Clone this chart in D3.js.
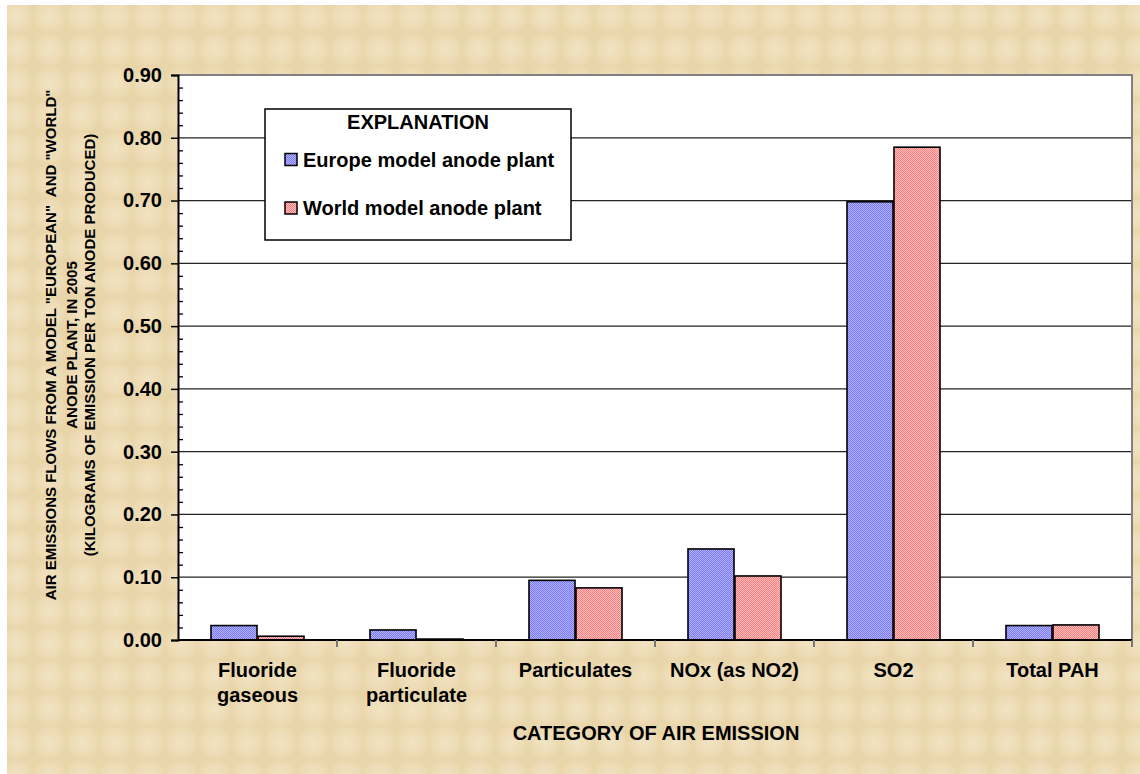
<!DOCTYPE html>
<html>
<head>
<meta charset="utf-8">
<script src="https://cdn.jsdelivr.net/npm/d3@7/dist/d3.min.js"></script>
<style>
  html, body { margin: 0; padding: 0; background: #ffffff; }
  svg { display: block; }
  text { font-family: "Liberation Sans", Arial, sans-serif; font-weight: bold; fill: #000; }
</style>
</head>
<body>
<svg id="chart" width="1140" height="774"></svg>
<script>
// ---- data ----
const categories = ["Fluoride gaseous", "Fluoride particulate", "Particulates", "NOx (as NO2)", "SO2", "Total PAH"];
const seriesNames = ["Europe model anode plant", "World model anode plant"];
const europeValues = [0.023, 0.016, 0.095, 0.145, 0.698, 0.023];
const worldValues  = [0.006, 0.0015, 0.083, 0.102, 0.785, 0.024];
const yTickValues = [0, 0.1, 0.2, 0.3, 0.4, 0.5, 0.6, 0.7, 0.8, 0.9];
const yTitleLines = ['AIR EMISSIONS FLOWS FROM A MODEL "EUROPEAN"  AND "WORLD"', 'ANODE PLANT, IN 2005', '(KILOGRAMS OF EMISSION PER TON ANODE PRODUCED)'];
const xTitle = "CATEGORY OF AIR EMISSION";
const legendTitle = "EXPLANATION";

const seriesValues = [europeValues, worldValues];

const svg = d3.select("#chart");
const W = 1140, H = 774;
const m = {left: 178, right: 1132, top: 75, bottom: 640};

// ---- defs: textures ----
const defs = svg.append("defs");
const bgPat = defs.append("pattern").attr("id", "parch")
  .attr("patternUnits", "userSpaceOnUse").attr("width", 33).attr("height", 33);
const rg = defs.append("radialGradient").attr("id", "bump");
rg.append("stop").attr("offset", "0%").attr("stop-color", "#F1E3C2");
rg.append("stop").attr("offset", "70%").attr("stop-color", "#EDDBB4");
rg.append("stop").attr("offset", "100%").attr("stop-color", "#E9D5AA");
bgPat.append("rect").attr("width", 33).attr("height", 33).attr("fill", "#E9D5AA");
bgPat.append("circle").attr("cx", 16.5).attr("cy", 16.5).attr("r", 18).attr("fill", "url(#bump)");

function checker(id, dark, light) {
  const p = defs.append("pattern").attr("id", id)
    .attr("patternUnits", "userSpaceOnUse").attr("width", 2).attr("height", 2);
  p.append("rect").attr("width", 2).attr("height", 2).attr("fill", light).attr("shape-rendering", "crispEdges");
  p.append("rect").attr("x", 0).attr("y", 0).attr("width", 1).attr("height", 1).attr("fill", dark).attr("shape-rendering", "crispEdges");
  p.append("rect").attr("x", 1).attr("y", 1).attr("width", 1).attr("height", 1).attr("fill", dark).attr("shape-rendering", "crispEdges");
}
checker("bluePat", "#7A7AF8", "#B2B2FF");
checker("redPat", "#FF7C7C", "#FFC0C0");
const fills = ["url(#bluePat)", "url(#redPat)"];

// ---- background ----
svg.append("rect").attr("x", 7).attr("y", 5).attr("width", W - 7).attr("height", H - 5)
  .attr("fill", "url(#parch)");

// ---- scales ----
const x0 = d3.scaleBand().domain(categories).range([m.left, m.right]).padding(0);
const x1 = d3.scaleBand().domain(seriesNames).range([0, x0.bandwidth()]).paddingInner(0).paddingOuter(0.728);
const y = d3.scaleLinear().domain([0, 0.9]).range([m.bottom, m.top]);

// plot area
svg.append("rect").attr("x", m.left).attr("y", m.top)
  .attr("width", m.right - m.left).attr("height", m.bottom - m.top).attr("fill", "#fff");

// gridlines
svg.append("g").selectAll("line").data(yTickValues.filter(d => d > 0 && d < 0.9)).join("line")
  .attr("x1", m.left).attr("x2", m.right)
  .attr("y1", d => y(d)).attr("y2", d => y(d))
  .attr("stroke", "#222").attr("stroke-width", 1.3);

// plot border (top & right gray)
svg.append("path")
  .attr("d", `M${m.left},${m.top}H${m.right}V${m.bottom}`)
  .attr("fill", "none").attr("stroke", "#808080").attr("stroke-width", 2);

// bars
const groups = svg.append("g").selectAll("g").data(categories).join("g")
  .attr("transform", d => `translate(${Math.round(x0(d))},0)`);
groups.selectAll("rect").data((d, i) => seriesNames.map((s, j) => ({s, j, v: seriesValues[j][i]}))).join("rect")
  .attr("x", d => Math.round(x1(d.s)))
  .attr("width", Math.round(x1.bandwidth()))
  .attr("y", d => y(d.v))
  .attr("height", d => y(0) - y(d.v))
  .attr("fill", d => fills[d.j])
  .attr("stroke", "#000").attr("stroke-width", 1.6);

// y axis
const yAxis = d3.axisLeft(y).tickValues(yTickValues).tickFormat(d3.format(".2f")).tickSize(7).tickPadding(9);
const ya = svg.append("g").attr("transform", `translate(${m.left},0)`).call(yAxis);
ya.select(".domain").attr("stroke", "#000").attr("stroke-width", 2);
ya.selectAll(".tick line").attr("stroke", "#000").attr("stroke-width", 1.5);
ya.selectAll(".tick text").style("font-size", "20px").style("font-family", "'Liberation Sans', Arial, sans-serif")
  .style("font-weight", "bold").attr("fill", "#000");
// minor ticks (inside)
const minor = d3.range(0, 0.9001, 0.02).filter(v => Math.round(v * 100) % 10 !== 0);
const yMinor = d3.axisRight(y).tickValues(minor).tickSize(5).tickFormat("");
const ym = svg.append("g").attr("transform", `translate(${m.left},0)`).call(yMinor);
ym.select(".domain").remove();
ym.selectAll(".tick line").attr("stroke", "#000").attr("stroke-width", 1.3);

// x axis
const xa = svg.append("g").attr("transform", `translate(0,${m.bottom})`);
xa.append("line").attr("x1", m.left).attr("x2", m.right).attr("y1", 0).attr("y2", 0)
  .attr("stroke", "#000").attr("stroke-width", 2);
const bounds = categories.map(c => x0(c) + x0.bandwidth());
xa.selectAll("line.tk").data(bounds).join("line").attr("class", "tk")
  .attr("x1", d => d).attr("x2", d => d).attr("y1", 0).attr("y2", 7)
  .attr("stroke", "#777").attr("stroke-width", 2);

// category labels with wrapping
const labels = svg.append("g").selectAll("text").data(categories).join("text")
  .attr("x", d => x0(d) + x0.bandwidth() / 2)
  .attr("y", 677)
  .attr("text-anchor", "middle")
  .style("font-size", "20px");
labels.each(function(d) {
  const t = d3.select(this);
  const words = d.split(" ");
  const maxW = 145;
  let lines = [], cur = [];
  const probe = t.append("tspan");
  words.forEach(w => {
    const test = cur.concat([w]).join(" ");
    probe.text(test);
    if (probe.node().getComputedTextLength() > maxW && cur.length) { lines.push(cur.join(" ")); cur = [w]; }
    else cur.push(w);
  });
  lines.push(cur.join(" "));
  probe.remove();
  const cx = t.attr("x");
  lines.forEach((ln, i) => t.append("tspan").attr("x", cx).attr("dy", i === 0 ? 0 : 25).text(ln));
});

// x title
svg.append("text").attr("x", 656).attr("y", 740).attr("text-anchor", "middle")
  .style("font-size", "20px").text(xTitle);

// y title
const yt = svg.append("text").attr("transform", "translate(0,345) rotate(-90)")
  .attr("text-anchor", "middle").style("font-size", "15px");
const ytX = [56, 77, 95];
yTitleLines.forEach((ln, i) => yt.append("tspan").attr("x", 0).attr("y", ytX[i]).attr("xml:space", "preserve").style("white-space", "pre").text(ln));

// legend
const lg = svg.append("g");
lg.append("rect").attr("x", 265).attr("y", 109).attr("width", 306).attr("height", 131)
  .attr("fill", "#fff").attr("stroke", "#000").attr("stroke-width", 1.5);
lg.append("text").attr("x", 418).attr("y", 129).attr("text-anchor", "middle")
  .style("font-size", "20px").text(legendTitle);
const legY = [166.5, 215];
seriesNames.forEach((s, i) => {
  lg.append("rect").attr("x", 285).attr("y", legY[i] - 13).attr("width", 12).attr("height", 12)
    .attr("fill", fills[i]).attr("stroke", "#000").attr("stroke-width", 1.5);
  lg.append("text").attr("x", 303).attr("y", legY[i]).style("font-size", "20px").text(s);
});
</script>
</body>
</html>
